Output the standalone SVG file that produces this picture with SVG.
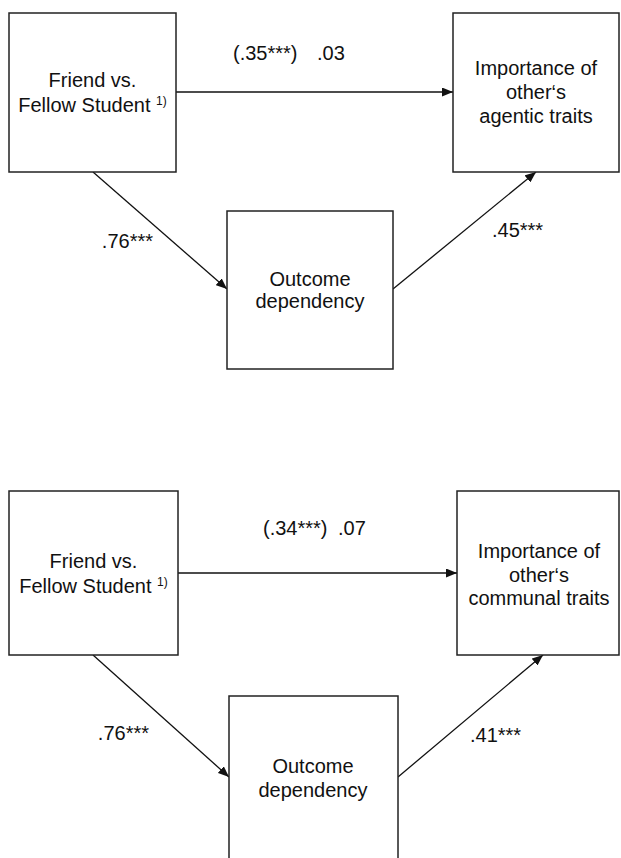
<svg xmlns="http://www.w3.org/2000/svg" width="621" height="858" viewBox="0 0 621 858">
<style>
.box{fill:#fff;stroke:#222;stroke-width:1.5}
.t{font-family:"Liberation Sans",Arial,sans-serif;font-size:20px;fill:#111}
.c{text-anchor:middle}
.sup{font-size:12px}
.edge{stroke:#111;stroke-width:1.3;fill:none;marker-end:url(#ah)}
</style>
<defs>
<marker id="ah" markerUnits="userSpaceOnUse" markerWidth="11" markerHeight="9" refX="11" refY="4.5" orient="auto">
<path d="M0,0 L11,4.5 L0,9 z" fill="#111"/>
</marker>
</defs>
<rect width="621" height="858" fill="#fff"/>
<g id="connectors">
<line class="edge" x1="176" y1="92" x2="453" y2="92"/>
<line class="edge" x1="93" y1="172" x2="227" y2="289"/>
<line class="edge" x1="393" y1="289" x2="536" y2="172"/>
<line class="edge" x1="178" y1="573" x2="457" y2="573"/>
<line class="edge" x1="93" y1="655" x2="229" y2="777"/>
<line class="edge" x1="398" y1="777" x2="543" y2="655"/>
</g>
<g id="labels">
<text class="t" x="233" y="60">(.35***)</text>
<text class="t" x="317" y="60">.03</text>
<text class="t" x="153" y="248" text-anchor="end">.76***</text>
<text class="t" x="492" y="237">.45***</text>
<text class="t" x="263" y="535">(.34***)</text>
<text class="t" x="338" y="535">.07</text>
<text class="t" x="149" y="740" text-anchor="end">.76***</text>
<text class="t" x="470" y="742">.41***</text>
</g>
<g id="friend1">
<rect class="box" x="9" y="13" width="167" height="159"/>
<text class="t c" x="92.5" y="87">Friend vs.</text>
<text class="t c" x="92.5" y="112">Fellow Student <tspan class="sup" dy="-7">1)</tspan></text>
</g>
<g id="agentic">
<rect class="box" x="453" y="13" width="166" height="159"/>
<text class="t c" x="536" y="75">Importance of</text>
<text class="t c" x="536" y="99">other‘s</text>
<text class="t c" x="536" y="123">agentic traits</text>
</g>
<g id="outcome1">
<rect class="box" x="227" y="211" width="166" height="158"/>
<text class="t c" x="310" y="286">Outcome</text>
<text class="t c" x="310" y="308">dependency</text>
</g>
<g id="friend2">
<rect class="box" x="9" y="491" width="169" height="164"/>
<text class="t c" x="93.5" y="568">Friend vs.</text>
<text class="t c" x="93.5" y="593">Fellow Student <tspan class="sup" dy="-7">1)</tspan></text>
</g>
<g id="communal">
<rect class="box" x="457" y="491" width="162" height="164"/>
<text class="t c" x="539" y="558">Importance of</text>
<text class="t c" x="539" y="582">other‘s</text>
<text class="t c" x="539" y="605">communal traits</text>
</g>
<g id="outcome2">
<rect class="box" x="229" y="696" width="169" height="172"/>
<text class="t c" x="313" y="773">Outcome</text>
<text class="t c" x="313" y="797">dependency</text>
</g>
</svg>
